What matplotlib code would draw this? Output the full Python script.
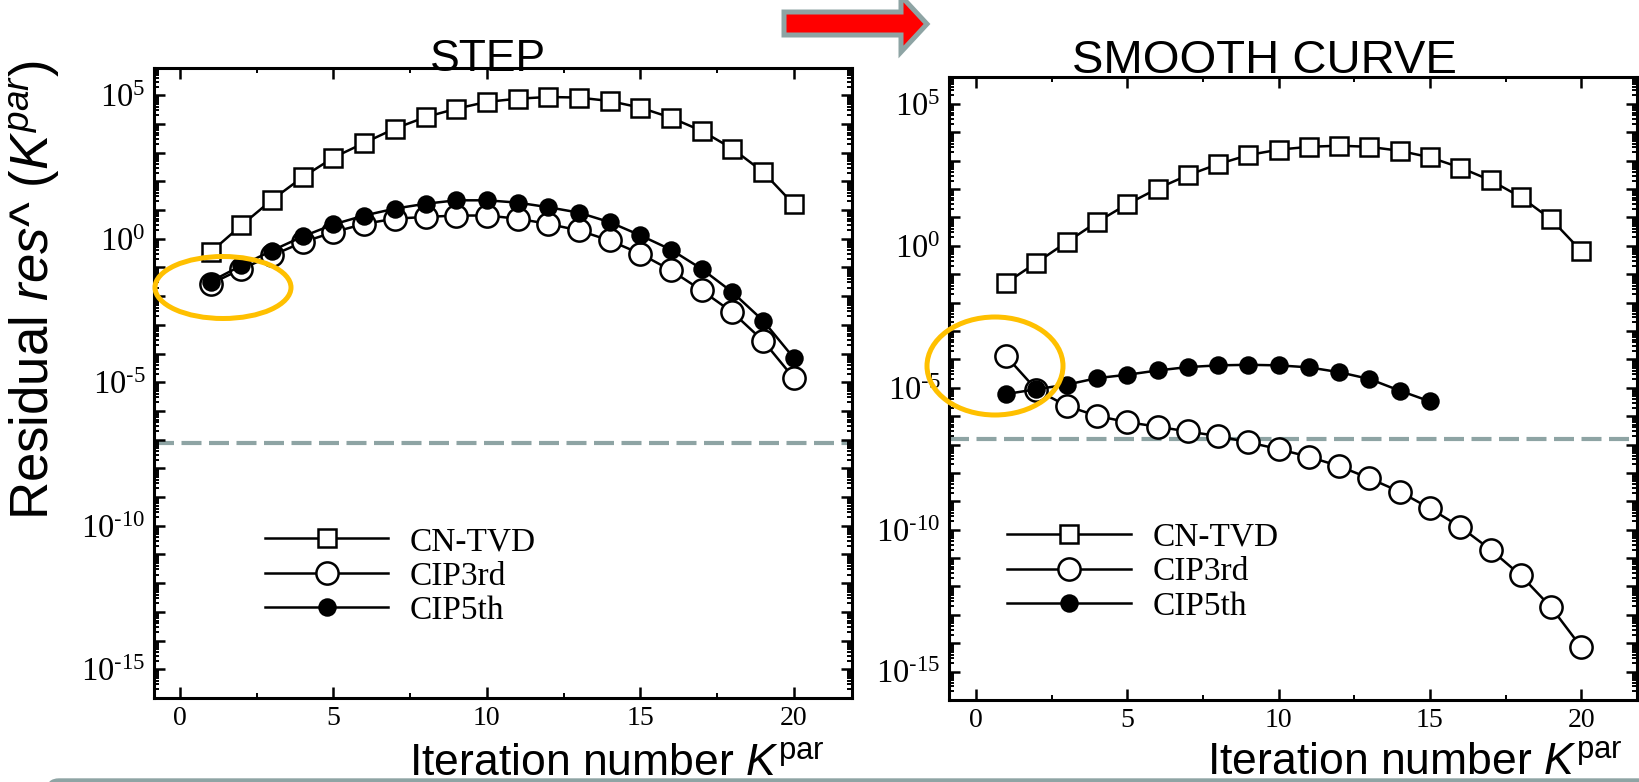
import numpy as np
import matplotlib
matplotlib.use('Agg')
import matplotlib.pyplot as plt
from matplotlib.patches import Ellipse, Polygon, FancyBboxPatch
from matplotlib.transforms import IdentityTransform
from matplotlib.ticker import MultipleLocator, LogLocator, FuncFormatter, NullFormatter

plt.rcParams['font.family'] = ['Liberation Sans', 'DejaVu Sans']
plt.rcParams['mathtext.fontset'] = 'custom'
plt.rcParams['mathtext.rm'] = 'Liberation Sans'
plt.rcParams['mathtext.it'] = 'Liberation Sans:italic'

W, H = 1639, 782

iters = np.arange(1, 21)
iters_short = np.arange(1, 16)

# log10 of the residual per parallel iteration
step_cntvd = [-0.46, 0.47, 1.36, 2.15, 2.83, 3.34, 3.84, 4.24, 4.53, 4.77,
              4.88, 4.94, 4.92, 4.80, 4.57, 4.22, 3.76, 3.14, 2.33, 1.20]
step_cip3 = [-1.57, -1.05, -0.58, -0.12, 0.23, 0.52, 0.70, 0.76, 0.81, 0.81,
             0.70, 0.52, 0.29, -0.06, -0.52, -1.10, -1.80, -2.56, -3.55, -4.85]
step_cip5 = [-1.49, -0.93, -0.41, 0.08, 0.50, 0.81, 1.05, 1.22, 1.34, 1.34,
             1.26, 1.10, 0.91, 0.58, 0.12, -0.38, -1.05, -1.86, -2.85, -4.15]

smooth_cntvd = [-1.30, -0.59, 0.13, 0.84, 1.47, 2.02, 2.49, 2.88, 3.20, 3.39,
                3.49, 3.53, 3.49, 3.35, 3.12, 2.76, 2.31, 1.72, 0.94, -0.18]
smooth_cip3 = [-3.89, -5.07, -5.64, -5.99, -6.21, -6.37, -6.54, -6.70, -6.92, -7.16,
               -7.43, -7.76, -8.19, -8.66, -9.25, -9.90, -10.70, -11.61, -12.73, -14.14]
smooth_cip5 = [-5.22, -5.05, -4.89, -4.66, -4.54, -4.39, -4.27, -4.21, -4.19, -4.21,
               -4.28, -4.45, -4.69, -5.10, -5.48]

tol_step = -7.13
tol_smooth = -6.80

labels = ['CN-TVD', 'CIP3rd', 'CIP5th']
grey = '#8ea4a4'
gold = '#FFC000'


def exp_fmt(v, pos):
    e = int(round(np.log10(v)))
    if e % 5:
        return ''
    if e < 0:
        return r'$\mathregular{10^{\text{-}%d}}$' % -e
    return r'$\mathregular{10^{%d}}$' % e


def setup(ax, xlim):
    ax.set_yscale('log')
    ax.set_xlim(*xlim)
    ax.set_ylim(1e-16, 10 ** 5.95)
    ax.xaxis.set_major_locator(MultipleLocator(5))
    ax.xaxis.set_minor_locator(MultipleLocator(2.5))
    ax.yaxis.set_major_locator(LogLocator(base=10, numticks=40))
    ax.yaxis.set_minor_locator(LogLocator(base=10, subs=np.arange(2, 10), numticks=40))
    ax.yaxis.set_major_formatter(FuncFormatter(exp_fmt))
    ax.yaxis.set_minor_formatter(NullFormatter())
    ax.tick_params(which='both', direction='in', top=True, right=True,
                   labelfontfamily='Liberation Serif')
    ax.tick_params(which='major', length=8, width=1.8)
    ax.tick_params(which='minor', length=3.6, width=1.4)
    ax.tick_params(axis='x', labelsize=20, pad=6)
    ax.tick_params(axis='y', labelsize=23.5, pad=6)
    for s in ax.spines.values():
        s.set_linewidth(2.2)


def draw(ax, x3, y_cntvd, y_cip3, x5, y_cip5, tol):
    ax.axhline(10 ** tol, color=grey, lw=3, dashes=(4.8, 1.8), zorder=1)
    h1, = ax.plot(iters, 10 ** np.array(y_cntvd), color='k', lw=1.8, marker='s',
                  ms=13, mfc='white', mec='k', mew=1.8, zorder=3)
    h2, = ax.plot(x3, 10 ** np.array(y_cip3), color='k', lw=1.8, marker='o',
                  ms=16, mfc='white', mec='k', mew=1.8, zorder=3)
    h3, = ax.plot(x5, 10 ** np.array(y_cip5), color='k', lw=1.8, marker='o',
                  ms=11.5, mfc='k', mec='k', mew=1.8, zorder=4)
    return [h1, h2, h3]


fig = plt.figure(figsize=(W / 100, H / 100), dpi=100)
ax1 = fig.add_axes([154 / W, 1 - 698 / H, 698 / W, 630 / H])
ax2 = fig.add_axes([949 / W, 1 - 700 / H, 688 / W, 623 / H])

setup(ax1, (-0.85, 21.9))
setup(ax2, (-0.89, 21.84))

hs1 = draw(ax1, iters, step_cntvd, step_cip3, iters, step_cip5, tol_step)
hs2 = draw(ax2, iters, smooth_cntvd, smooth_cip3, iters_short, smooth_cip5, tol_smooth)

leg_kw = dict(loc='upper left', frameon=False, borderpad=0, borderaxespad=0,
              handlelength=3.7, handletextpad=0.65, labelspacing=0.12,
              prop={'family': 'Liberation Serif', 'size': 24})
ax1.legend(hs1, labels, bbox_to_anchor=(0.159, 0.272), **leg_kw)
ax2.legend(hs2, labels, bbox_to_anchor=(0.085, 0.285), **leg_kw)

ax1.text(0.478, 0.995, 'STEP', transform=ax1.transAxes, ha='center',
         va='baseline', fontsize=32)
ax2.text(0.459, 1.006, 'SMOOTH CURVE', transform=ax2.transAxes, ha='center',
         va='baseline', fontsize=34)

fig.text(35 / W, 1 - 290 / H, r'Residual $res$^ $\mathit{(}K^{par}\mathit{)}$', rotation=90,
         ha='center', va='center', fontsize=38)
fig.text(617 / W, 1 - 776 / H, r'Iteration number $K^{\mathrm{par}}$',
         ha='center', va='baseline', fontsize=32)
fig.text(1415 / W, 1 - 775 / H, r'Iteration number $K^{\mathrm{par}}$',
         ha='center', va='baseline', fontsize=32)

# highlight rings around the first iterations
fig.add_artist(Ellipse((223 / W, 1 - 287.5 / H), 136 / W, 62 / H,
                       transform=fig.transFigure, fill=False, ec=gold, lw=3.6))
fig.add_artist(Ellipse((995 / W, 1 - 366 / H), 136 / W, 98 / H,
                       transform=fig.transFigure, fill=False, ec=gold, lw=3.6))

# arrow between the panels (pixel coordinates, y from top)
arrow_px = [(784, 12), (901, 12), (901, -4), (927, 24), (901, 52), (901, 35), (784, 35)]
fig.add_artist(Polygon([(x / W, 1 - y / H) for x, y in arrow_px], closed=True,
                       transform=fig.transFigure, fc='#ff0000', ec=grey, lw=3.6))

# panel frame along the bottom edge
fig.add_artist(FancyBboxPatch((47, -40), 1700, 43, boxstyle='round,pad=0,rounding_size=12',
                              transform=IdentityTransform(), fc=grey, ec=grey, lw=1))

fig.savefig('out.png', dpi=100)
